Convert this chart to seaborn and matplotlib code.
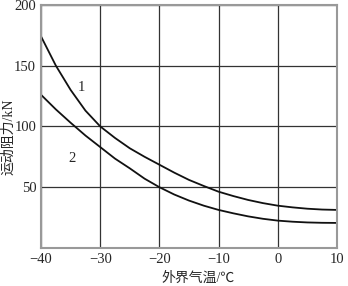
import matplotlib
matplotlib.use("Agg")
import matplotlib.pyplot as plt
import seaborn as sns
import pandas as pd

# data
temp = [-40, -37.5, -35, -32.5, -30, -27.5, -25, -22.5, -20, -17.5, -15,
        -12.5, -10, -7.5, -5, -2.5, 0, 2.5, 5, 7.5, 10]
curve1 = [174, 150, 130, 113, 100, 90.5, 82, 75, 68.5, 62, 56,
          51, 46.3, 42.7, 39.5, 36.9, 34.8, 33.4, 32.3, 31.6, 31.3]
curve2 = [126, 114, 103, 92.5, 83, 73.5, 65.5, 57, 50, 44, 39,
          34.8, 31.3, 28.5, 26, 24, 22.5, 21.6, 21, 20.7, 20.6]
curve_labels = ["1", "2"]
label_pos_x = [-33.1, -34.8]
label_pos_y = [132, 74]
xticks = [-40, -30, -20, -10, 0, 10]
yticks = [50, 100, 150, 200]
xlabel = "外界气温/℃"
ylabel = "运动阻力/kN"

sns.set_style("white")
plt.rcParams["font.family"] = ["Liberation Serif", "Noto Sans CJK SC", "DejaVu Sans"]

df = pd.DataFrame({
    "temp": temp * 2,
    "force": curve1 + curve2,
    "curve": [curve_labels[0]] * len(temp) + [curve_labels[1]] * len(temp),
})

fig = plt.figure(figsize=(3.48, 2.86), dpi=100)
ax = fig.add_axes([0.118, 0.133, 0.850, 0.850])
sns.lineplot(data=df, x="temp", y="force", units="curve", estimator=None,
             color="#111111", linewidth=1.3, ax=ax, legend=False)

ax.set_xlim(-40, 10)
ax.set_ylim(0, 200)
ax.set_xticks(xticks)
ax.set_yticks(yticks)
ax.set_xticklabels(["\u2212" + str(-t) if t < 0 else str(t) for t in xticks])
ax.grid(True, color="#333333", linewidth=0.9)
ax.set_axisbelow(True)
ax.tick_params(length=0, labelsize=10.5, pad=3.5)
for s in ax.spines.values():
    s.set_color("#999999")
    s.set_linewidth(1.5)

for t, x, y in zip(curve_labels, label_pos_x, label_pos_y):
    ax.text(x, y, t, fontsize=10.5, ha="center", va="center")

ax.set_xlabel("")
ax.set_ylabel("")
fig.text(198 / 348, 1 - 278 / 286, xlabel, fontsize=10, ha="center", va="center")
fig.text(9 / 348, 1 - 137 / 286, ylabel, fontsize=10, ha="center", va="center",
         rotation=90)

fig.savefig("out.png", dpi=100)
